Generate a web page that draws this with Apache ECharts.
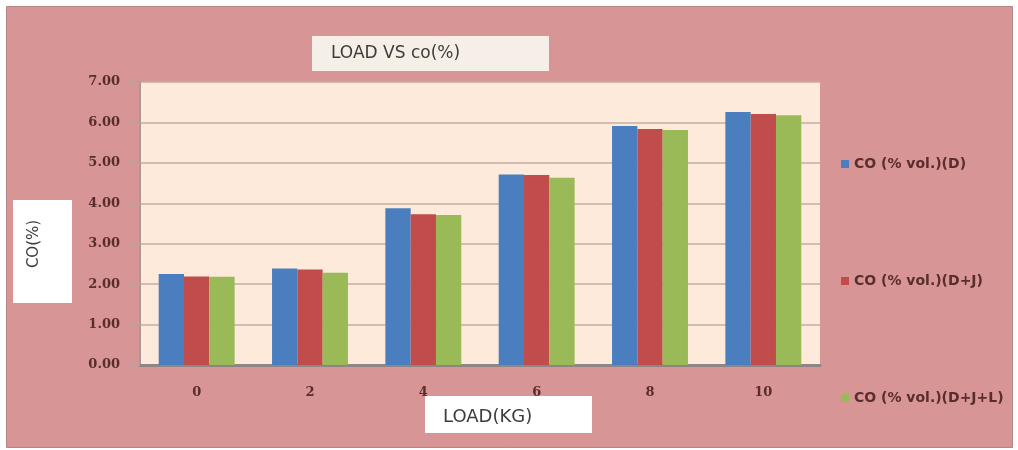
<!DOCTYPE html>
<html>
<head>
<meta charset="utf-8">
<script src="https://cdn.jsdelivr.net/npm/echarts@6/dist/echarts.min.js"></script>
<style>
  html, body { margin: 0; padding: 0; background: #ffffff; }
  #chart { width: 1018px; height: 450px; }
</style>
</head>
<body>
<div id="chart"></div>
<script>
// Load steps (kg) on the category axis
const loads = ['0', '2', '4', '6', '8', '10'];

// CO emission (% vol.) for each fuel blend
const coD = [2.25, 2.39, 3.88, 4.71, 5.91, 6.26];
const coDJ = [2.19, 2.36, 3.73, 4.70, 5.84, 6.21];
const coDJL = [2.18, 2.28, 3.71, 4.63, 5.81, 6.18];

const seriesNames = ['CO (% vol.)(D)', 'CO (% vol.)(D+J)', 'CO (% vol.)(D+J+L)'];
const seriesColors = ['#4A7EBF', '#C04D4B', '#99BA57'];

// Value axis ticks 0.00 .. 7.00
const yMin = 0, yMax = 7, yStep = 1;

const chart = echarts.init(document.getElementById('chart'), null, { renderer: 'canvas' });

const labelColor = '#5a2d2d';
const textGray = '#3c3c3c';

chart.setOption({
  animation: false,
  backgroundColor: 'transparent',
  grid: {
    left: 140, right: 198, top: 82, bottom: 85,
    show: true,
    backgroundColor: '#FDEADB',
    borderWidth: 0
  },
  legend: {
    orient: 'vertical',
    left: 836,
    top: 152,
    itemGap: 103,
    itemWidth: 8,
    itemHeight: 8,
    icon: 'rect',
    data: seriesNames,
    textStyle: {
      fontFamily: 'DejaVu Sans',
      fontSize: 14,
      fontWeight: 'bold',
      color: labelColor
    }
  },
  xAxis: {
    type: 'category',
    data: loads,
    axisLine: { show: true, lineStyle: { color: '#8f8585', width: 3 } },
    axisTick: { show: false },
    axisLabel: {
      margin: 21,
      fontFamily: 'DejaVu Serif',
      fontSize: 13,
      fontWeight: 'bold',
      color: labelColor
    }
  },
  yAxis: {
    type: 'value',
    min: yMin, max: yMax, interval: yStep,
    axisLine: { show: true, lineStyle: { color: '#a89a96', width: 2 } },
    axisTick: { show: true, length: 13, lineStyle: { color: '#b7a39c', width: 1.5 } },
    splitLine: { show: true, lineStyle: { color: '#c4aea4', width: 1.5 } },
    axisLabel: {
      margin: 20,
      fontFamily: 'DejaVu Serif',
      fontSize: 13,
      fontWeight: 'bold',
      color: labelColor,
      formatter: v => v.toFixed(2)
    }
  },
  series: [
    { name: seriesNames[0], type: 'bar', data: coD, itemStyle: { color: seriesColors[0] }, barGap: '0%', barCategoryGap: '33%' },
    { name: seriesNames[1], type: 'bar', data: coDJ, itemStyle: { color: seriesColors[1] } },
    { name: seriesNames[2], type: 'bar', data: coDJL, itemStyle: { color: seriesColors[2] } }
  ],
  graphic: [
    {
      type: 'rect', z: -100, silent: true,
      shape: { x: 6.5, y: 6.5, width: 1006, height: 441 },
      style: { fill: '#D89595', stroke: '#b38585', lineWidth: 1 }
    },
    {
      type: 'rect', z: 10,
      shape: { x: 312, y: 36, width: 237, height: 35 },
      style: { fill: '#F6EFE7' }
    },
    {
      type: 'text', z: 11,
      x: 331, y: 54,
      style: {
        text: 'LOAD VS co(%)',
        font: '17px "DejaVu Sans"',
        fill: textGray,
        verticalAlign: 'middle'
      }
    },
    {
      type: 'rect', z: 10,
      shape: { x: 13, y: 200, width: 59, height: 103 },
      style: { fill: '#ffffff' }
    },
    {
      type: 'text', z: 11,
      x: 34, y: 244,
      rotation: Math.PI / 2,
      style: {
        text: 'CO(%)',
        font: '15px "DejaVu Sans"',
        fill: textGray,
        align: 'center',
        verticalAlign: 'middle'
      }
    },
    {
      type: 'rect', z: 10,
      shape: { x: 425, y: 396, width: 167, height: 37 },
      style: { fill: '#ffffff' }
    },
    {
      type: 'text', z: 11,
      x: 443, y: 417,
      style: {
        text: 'LOAD(KG)',
        font: '18px "DejaVu Sans"',
        fill: textGray,
        verticalAlign: 'middle'
      }
    }
  ]
});
</script>
</body>
</html>
